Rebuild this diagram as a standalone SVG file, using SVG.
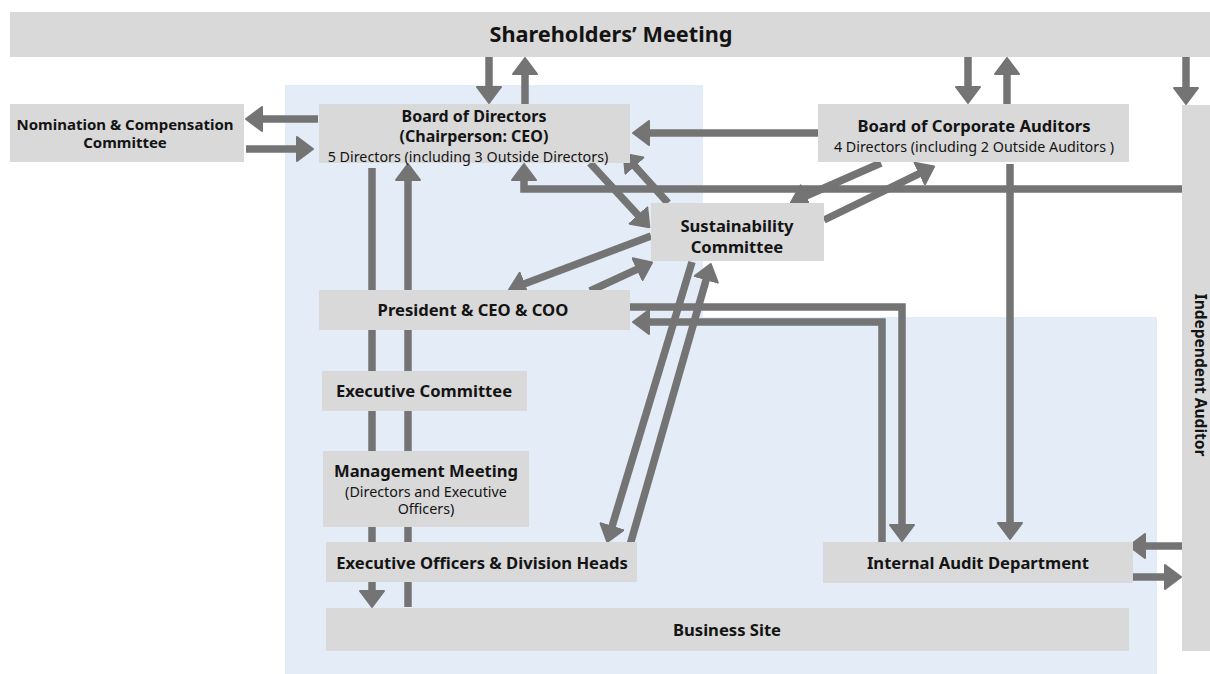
<svg xmlns="http://www.w3.org/2000/svg" width="1210" height="674" viewBox="0 0 1210 674">
<defs>
<marker id="ah" viewBox="0 0 18 26" markerWidth="18" markerHeight="26" markerUnits="userSpaceOnUse" refX="8" refY="13" orient="auto">
<path d="M1,1 L17,13 L1,25 Z" fill="#747474" stroke="#747474" stroke-width="2" stroke-linejoin="round"/>
</marker>
<style>
.box{fill:#d9d9d9}
.bg{fill:#e4ecf7}
.c{fill:none;stroke:#747474;stroke-width:7.5;stroke-linecap:butt;stroke-linejoin:miter;marker-end:url(#ah)}
text{font-family:"Noto Sans","Open Sans","Liberation Sans",sans-serif;fill:#141414;text-anchor:middle}
.b{font-weight:bold;font-size:16.6px}
.s{font-size:14.3px}
.h{font-weight:bold;font-size:21.7px}
</style>
</defs>
<rect width="1210" height="674" fill="#ffffff"/>
<path class="bg" d="M285,85 H703 V317 H1157 V674 H285 Z"/>

<g id="connectors">
<path class="c" d="M489,57 V94"/>
<path class="c" d="M525,104 V67"/>
<path class="c" d="M968,57 V94"/>
<path class="c" d="M1007,104 V67"/>
<path class="c" d="M1186,57 V95"/>
<path class="c" d="M318,119 H255"/>
<path class="c" d="M246,149 H304"/>
<path class="c" d="M818,133 H642"/>
<path class="c" d="M1182,189 H524 V173"/>
<path class="c" d="M590,163 L643.2,220.7"/>
<path class="c" d="M668,203 L629.7,160.4"/>
<path class="c" d="M651,236 L517.4,286.5"/>
<path class="c" d="M590,291 L643.9,266.2"/>
<path class="c" d="M881,163 L799.1,199"/>
<path class="c" d="M824,220 L926,170.4"/>
<path class="c" d="M692,262 L609.9,533.4"/>
<path class="c" d="M630,545 L708.2,272.6"/>
<path class="c" d="M630,307 H902 V532"/>
<path class="c" d="M882,543 V322 H642"/>
<path class="c" d="M1010,164 V530"/>
<path class="c" d="M1182,546 H1138"/>
<path class="c" d="M1133,577 H1172"/>
<path class="c" d="M372,168 V598"/>
<path class="c" d="M408,607 V173"/>
</g>

<g id="shareholders">
<rect class="box" x="10" y="12" width="1200" height="45"/>
<text class="h" x="611" y="42">Shareholders’ Meeting</text>
</g>
<g id="nomination">
<rect class="box" x="10" y="104" width="234" height="58"/>
<text class="b" x="125" y="130" style="font-size:15px">Nomination &amp; Compensation</text>
<text class="b" x="125" y="148" style="font-size:15px">Committee</text>
</g>
<g id="board">
<rect class="box" x="319" y="104" width="311" height="59"/>
<text class="b" x="474" y="121.5" style="font-size:16px">Board of Directors</text>
<text class="b" x="474" y="142" style="font-size:16px">(Chairperson: CEO)</text>
<text class="s" x="468" y="161.5">5 Directors (including 3 Outside Directors)</text>
</g>
<g id="corp-auditors">
<rect class="box" x="818" y="104" width="311" height="58"/>
<text class="b" x="974" y="132">Board of Corporate Auditors</text>
<text class="s" x="974" y="152">4 Directors (including 2 Outside Auditors )</text>
</g>
<g id="sustainability">
<rect class="box" x="651" y="203" width="173" height="58"/>
<text class="b" x="737" y="231.5">Sustainability</text>
<text class="b" x="737" y="253">Committee</text>
</g>
<g id="president">
<rect class="box" x="319" y="290" width="311" height="40"/>
<text class="b" x="473" y="316">President &amp; CEO &amp; COO</text>
</g>
<g id="exec-committee">
<rect class="box" x="322" y="371" width="205" height="40"/>
<text class="b" x="424" y="397">Executive Committee</text>
</g>
<g id="mgmt-meeting">
<rect class="box" x="323" y="451" width="206" height="76"/>
<text class="b" x="426" y="477">Management Meeting</text>
<text class="s" x="426" y="497">(Directors and Executive</text>
<text class="s" x="426" y="514">Officers)</text>
</g>
<g id="exec-officers">
<rect class="box" x="326" y="542" width="311" height="40"/>
<text class="b" x="482" y="569">Executive Officers &amp; Division Heads</text>
</g>
<g id="internal-audit">
<rect class="box" x="823" y="542" width="310" height="41"/>
<text class="b" x="978" y="569">Internal Audit Department</text>
</g>
<g id="business-site">
<rect class="box" x="326" y="608" width="803" height="43"/>
<text class="b" x="727" y="636">Business Site</text>
</g>
<g id="independent-auditor">
<rect class="box" x="1182" y="105" width="28" height="546"/>
<text class="b" transform="translate(1201,375) rotate(90)" x="0" y="0" dominant-baseline="central" style="font-size:15.5px">Independent Auditor</text>
</g>
</svg>
